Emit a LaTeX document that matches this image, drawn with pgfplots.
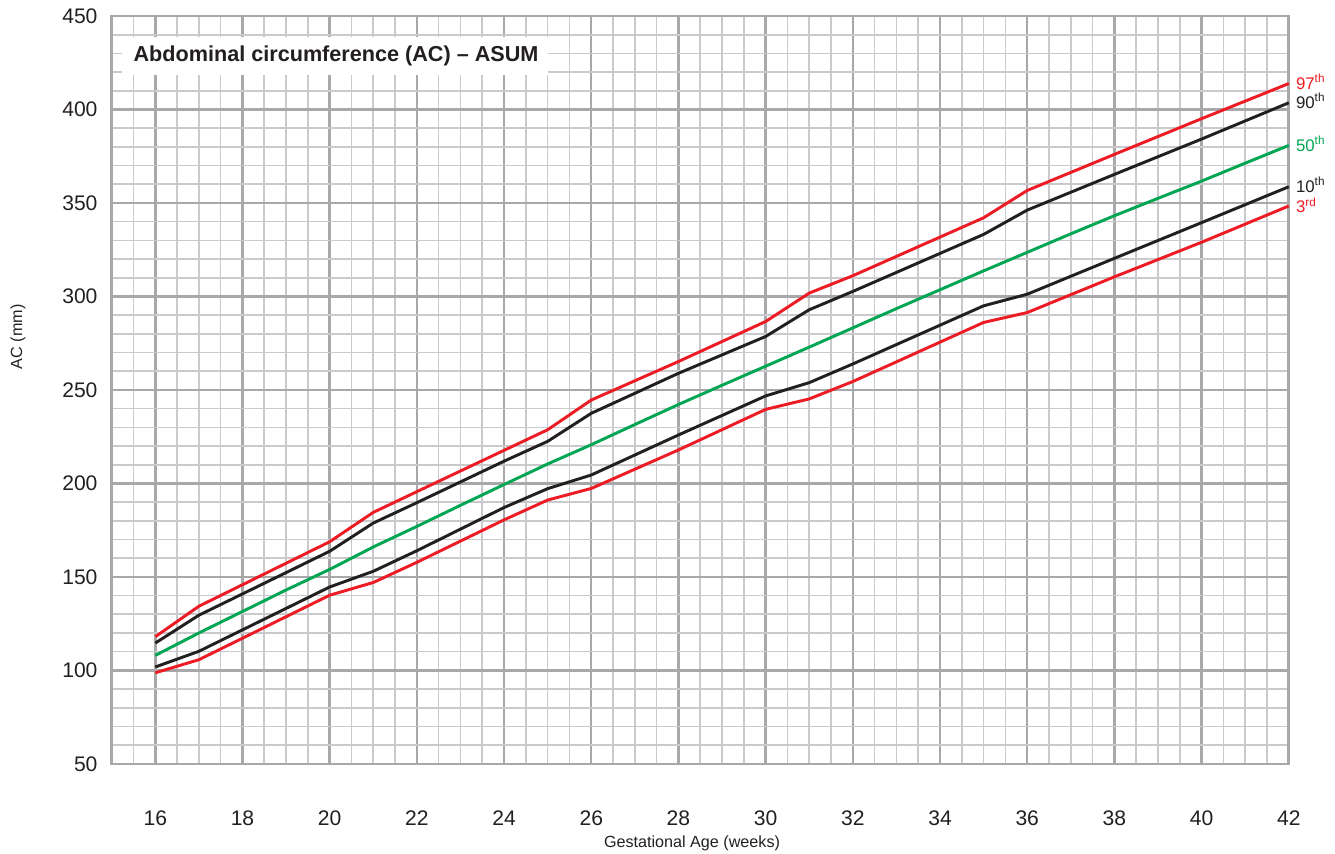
\documentclass[border=0pt]{standalone}
\usepackage{pgfplots}
\pgfplotsset{compat=1.18}
\usepackage{fontspec}
\setmainfont{Liberation Sans}
\definecolor{cred}{HTML}{ED1C24}
\definecolor{cblack}{HTML}{231F20}
\definecolor{cgreen}{HTML}{00A651}
\definecolor{gmaj}{HTML}{A8A8AB}
\definecolor{gmin}{HTML}{CACACC}
\begin{document}
\begin{tikzpicture}
\begin{axis}[
 at={(0,0)}, anchor=south west,
 scale only axis, width=440.9pt, height=280.1pt,
 xmin=15, xmax=42, ymin=50, ymax=450,
 xtick={16,18,...,42}, ytick={50,100,...,450},
 minor xtick={15,15.5,...,42}, minor ytick={50,60,...,450},
 grid=both,
 major grid style={gmaj, line width=0.9pt},
 minor grid style={gmin, line width=0.6pt},
 axis line style={gmaj, line width=1pt},
 major tick length=0pt, minor tick length=0pt,
 tick label style={font=\fontsize{7.9}{9}\selectfont, text=cblack},
 /pgf/number format/assume math mode=true,
 xticklabel style={yshift=-14pt},
 yticklabel style={xshift=-1.8pt},
 every axis x label/.style={at={(rel axis cs:0.493,-0.1057)}, anchor=center, font=\fontsize{6.05}{7}\selectfont, text=cblack},
 every axis y label/.style={at={(rel axis cs:-0.0796,0.571)}, rotate=90, anchor=center, font=\fontsize{6.05}{7}\selectfont, text=cblack},
 xlabel={Gestational Age (weeks)},
 ylabel={AC (mm)},
 clip=false,
]
% 97th
\addplot[cred, line width=1.1pt] coordinates {(16,118) (17,134.3) (20,168.8) (21,184.5) (22,195.6) (24,217.7) (25,228.7) (26,244.6) (28,265.2) (30,286.6) (31,301.8) (32,311.1) (35,342.1) (36,356.7) (38,376) (40,395.1) (42,413.9)};
% 90th
\addplot[cblack, line width=1.1pt] coordinates {(16,114.6) (17,129.5) (20,163.7) (21,178.8) (22,189.7) (24,211.9) (25,222.5) (26,237.5) (28,258.9) (30,278.6) (31,292.9) (32,302.7) (35,333.2) (36,346.2) (38,365.3) (40,384.2) (42,403.6)};
% 50th
\addplot[cgreen, line width=1.1pt] coordinates {(16,108) (17,120) (18,131.5) (19,143) (20,154) (21,166) (22,177) (23,188.3) (24,199.4) (25,210.4) (26,220.7) (27,231.5) (28,242.2) (29,252.5) (30,262.7) (31,272.9) (32,283.2) (33,293.5) (34,303.6) (35,313.7) (36,323.6) (37,333.5) (38,343.2) (39,352.5) (40,361.7) (41,371.3) (42,380.8)};
% 10th
\addplot[cblack, line width=1.1pt] coordinates {(16,101.8) (17,110.2) (20,144.6) (21,153) (22,164) (24,187.1) (25,197.2) (26,204.5) (28,225.9) (30,246.8) (31,253.9) (32,263.9) (35,295) (36,301.2) (38,320.4) (40,339.5) (42,358.7)};
% 3rd
\addplot[cred, line width=1.1pt] coordinates {(16,98.7) (17,105.7) (20,140.2) (21,147) (22,157.8) (24,180.5) (25,191.1) (26,197.3) (28,217.9) (30,239.6) (31,245.2) (32,254.5) (35,286.1) (36,291.4) (38,310.5) (40,329) (42,348.4)};

\fill[white] (axis cs:15.236,418.4) rectangle (axis cs:25,438.8);
\node[anchor=west, inner sep=0pt, text=cblack, font=\bfseries\fontsize{8.1}{9}\selectfont] at (axis cs:15.49,428.6) {Abdominal circumference (AC) -- ASUM};

\node[anchor=base west, inner sep=0pt, xshift=2.5pt, yshift=-2.2pt, text=cred, font=\fontsize{6.3}{7}\selectfont] at (axis cs:42,413.9) {97\textsuperscript{th}};
\node[anchor=base west, inner sep=0pt, xshift=2.5pt, yshift=-2.2pt, text=cblack, font=\fontsize{6.3}{7}\selectfont] at (axis cs:42,403.6) {90\textsuperscript{th}};
\node[anchor=base west, inner sep=0pt, xshift=2.5pt, yshift=-2.2pt, text=cgreen, font=\fontsize{6.3}{7}\selectfont] at (axis cs:42,380.8) {50\textsuperscript{th}};
\node[anchor=base west, inner sep=0pt, xshift=2.5pt, yshift=-2.2pt, text=cblack, font=\fontsize{6.3}{7}\selectfont] at (axis cs:42,358.7) {10\textsuperscript{th}};
\node[anchor=base west, inner sep=0pt, xshift=2.5pt, yshift=-2.6pt, text=cred, font=\fontsize{6.3}{7}\selectfont] at (axis cs:42,348.4) {3\textsuperscript{rd}};
\end{axis}
\pgfresetboundingbox
\useasboundingbox (-41.84pt,-33.7pt) rectangle (458.2pt,286.1pt);
\end{tikzpicture}
\end{document}
